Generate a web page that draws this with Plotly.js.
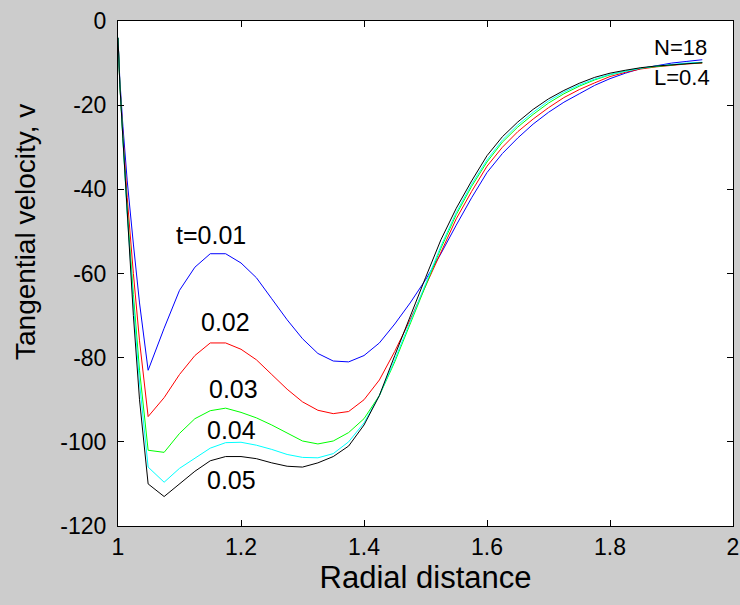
<!DOCTYPE html>
<html>
<head>
<meta charset="utf-8">
<script src="https://cdn.plot.ly/plotly-3.0.1.min.js"></script>
<style>html,body{margin:0;padding:0;background:#cccccc;}#chart{width:740px;height:605px;}</style>
</head>
<body>
<div id="chart"></div>
<script>
// Radial distance samples
const radial = [1.0, 1.003, 1.008, 1.015, 1.025, 1.035, 1.049, 1.075, 1.1, 1.125, 1.15, 1.175, 1.2, 1.225, 1.25, 1.275, 1.3, 1.325, 1.35, 1.375, 1.4, 1.425, 1.45, 1.475, 1.5, 1.525, 1.55, 1.575, 1.6, 1.625, 1.65, 1.675, 1.7, 1.725, 1.75, 1.775, 1.8, 1.825, 1.85, 1.875, 1.9, 1.925, 1.95];

// Tangential velocity for each time
const v_t001 = [-4, -14, -25, -38, -53, -67, -83, -73, -64, -58.5, -55.3, -55.3, -57.5, -61, -66, -71, -75.5, -79, -80.8, -81, -79.5, -76.5, -72, -67, -61.5, -55.3, -48.5, -42, -36, -31.5, -27.8, -24.5, -21.7, -19.3, -17.3, -15.3, -13.7, -12.4, -11.3, -10.6, -10.0, -9.6, -9.2];
const v_t002 = [-4, -15, -27, -42, -60, -76, -94, -89.5, -84, -79.5, -76.5, -76.5, -78, -80.5, -84, -87.5, -90.5, -92.5, -93.3, -92.8, -90, -85.3, -78.5, -71, -63, -55, -47, -40.5, -34.5, -30, -26.3, -23.3, -20.6, -18.2, -16.3, -14.7, -13.2, -12.2, -11.4, -10.9, -10.5, -10.2, -10];
const v_t003 = [-4, -15, -28, -45, -65, -83, -102, -102.5, -98, -94.5, -92.6, -92, -93, -94.3, -96, -98, -99.8, -100.5, -99.8, -97.8, -94.5, -89, -81, -72, -63, -54, -46, -39.3, -33.5, -28.8, -25.2, -22.2, -19.5, -17.3, -15.5, -14, -12.8, -11.9, -11.2, -10.8, -10.4, -10.1, -9.9];
const v_t004 = [-4, -15, -28, -46, -67, -86, -106, -109.6, -106.3, -104, -101.5, -100.2, -100.1, -100.8, -101.8, -103, -103.7, -103.8, -102.8, -100, -95.5, -89, -80.5, -71.5, -62.5, -53.5, -45.5, -38.8, -33, -28.3, -24.7, -21.7, -19, -16.9, -15.2, -13.8, -12.7, -11.9, -11.2, -10.7, -10.3, -10, -9.8];
const v_t005 = [-4, -15, -28, -46, -70, -90, -110, -113, -110, -107, -104.5, -103.5, -103.5, -104, -105, -105.8, -106, -105, -103.5, -101, -96, -89, -79.5, -70, -61, -52, -44.5, -38, -32, -27.5, -24, -21, -18.5, -16.5, -14.8, -13.4, -12.4, -11.7, -11.1, -10.7, -10.4, -10.1, -9.9];

const series = [v_t001, v_t002, v_t003, v_t004, v_t005];
const seriesNames = ["t=0.01", "0.02", "0.03", "0.04", "0.05"];
const colors = ["#0000ff", "#ff0000", "#00ff00", "#00ffff", "#000000"];

// Curve label positions (data coordinates)
const labelX = [1.151, 1.174, 1.187, 1.184, 1.184];
const labelY = [-50.8, -71.5, -87.4, -97.1, -109];

const xTicks = [1, 1.2, 1.4, 1.6, 1.8, 2];
const yTicks = [-120, -100, -80, -60, -40, -20, 0];

const traces = series.map((s, i) => ({
  x: radial, y: s, type: 'scatter', mode: 'lines', name: seriesNames[i],
  line: {color: colors[i], width: 1}, hoverinfo: 'skip'
}));

const font = "Arial, 'Liberation Sans', sans-serif";
const annotations = seriesNames.map((n, i) => ({
  x: labelX[i], y: labelY[i], xref: 'x', yref: 'y', text: n, showarrow: false,
  font: {family: font, size: 25, color: '#000'}
}));
annotations.push({x: 1.915, y: -6.2, xref: 'x', yref: 'y', text: 'N=18', showarrow: false, font: {family: font, size: 22, color: '#000'}});
annotations.push({x: 1.917, y: -13.5, xref: 'x', yref: 'y', text: 'L=0.4', showarrow: false, font: {family: font, size: 22, color: '#000'}});
annotations.push({x: 25, y: 232, xref: 'paper', yref: 'paper', text: 'Tangential velocity, v', showarrow: false, textangle: -90, font: {family: font, size: 28, color: '#000'}});

// convert pixel position for the y-title annotation to paper coords
const L = 118, R = 7, T = 21, B = 79, W = 740, H = 605;
const pw = W - L - R, ph = H - T - B;
const yt = annotations[annotations.length - 1];
yt.x = (yt.x - L) / pw; yt.y = (H - B - yt.y) / ph;
yt.xanchor = 'center'; yt.yanchor = 'middle';

const layout = {
  width: W, height: H,
  margin: {l: L, r: R, t: T, b: B, pad: 0},
  paper_bgcolor: '#cccccc', plot_bgcolor: '#ffffff',
  showlegend: false,
  font: {family: font, color: '#000'},
  xaxis: {
    range: [1, 2], tickvals: xTicks, ticktext: xTicks.map(String),
    ticks: 'inside', ticklen: 6, tickcolor: '#000', tickwidth: 1,
    showline: true, linecolor: '#000', linewidth: 1, mirror: 'ticks',
    showgrid: false, zeroline: false,
    tickfont: {family: font, size: 23, color: '#000'},
    title: {text: 'Radial distance', font: {family: font, size: 31, color: '#000'}, standoff: 6}
  },
  yaxis: {
    range: [-120, 0], tickvals: yTicks, ticktext: yTicks.map(String),
    ticks: 'inside', ticklen: 6, tickcolor: '#000', tickwidth: 1,
    showline: true, linecolor: '#000', linewidth: 1, mirror: 'ticks',
    showgrid: false, zeroline: false,
    tickfont: {family: font, size: 23, color: '#000'},
    ticklabelstandoff: 6
  },
  annotations: annotations
};

Plotly.newPlot('chart', traces, layout, {staticPlot: true, displayModeBar: false});
</script>
</body>
</html>
